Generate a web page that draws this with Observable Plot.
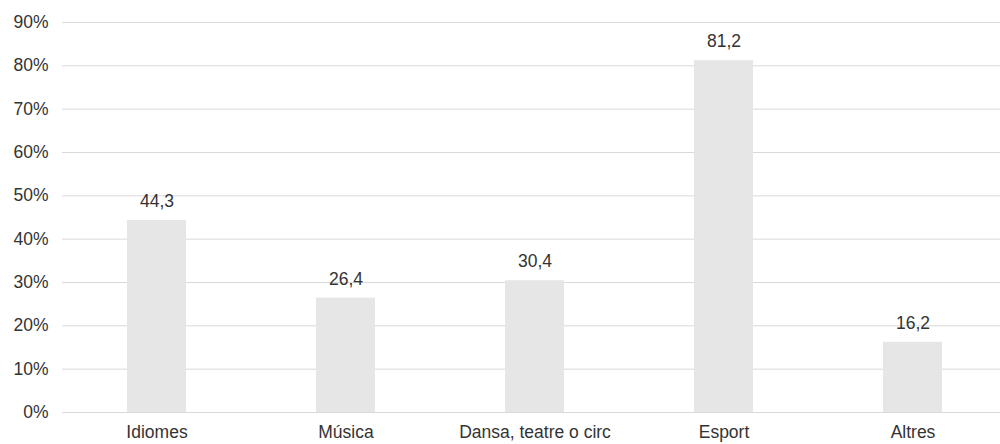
<!DOCTYPE html>
<html>
<head>
<meta charset="utf-8">
<script src="https://cdn.jsdelivr.net/npm/d3@7"></script>
<script src="https://cdn.jsdelivr.net/npm/@observablehq/plot@0.6"></script>
<style>
  html, body { margin: 0; padding: 0; background: #fff; }
  #chart svg { display: block; }
</style>
</head>
<body>
<div id="chart"></div>
<script>
const categories = ["Idiomes", "Música", "Dansa, teatre o circ", "Esport", "Altres"];
const values = [44.3, 26.4, 30.4, 81.2, 16.2];
const yTicks = [0, 10, 20, 30, 40, 50, 60, 70, 80, 90];

const data = categories.map((c, i) => ({ category: c, value: values[i] }));
const fmt = v => v.toFixed(1).replace(".", ",");
const FS = 17.5;

const chart = Plot.plot({
  width: 1000,
  height: 444,
  marginTop: 22,
  marginBottom: 32,
  marginLeft: 62,
  marginRight: 0,
  style: { fontFamily: "'Liberation Sans', Arial, sans-serif", fontSize: FS + "px", color: "#333", background: "#fff" },
  x: { domain: categories, range: [62, 1007], paddingInner: 0.69, paddingOuter: 0.345, label: null },
  y: { domain: [0, 90], label: null },
  marks: [
    Plot.ruleY(yTicks, { stroke: "#d9d9d9", strokeWidth: 1 }),
    Plot.barY(data, { x: "category", y: "value", fill: "#e6e6e6" }),
    Plot.ruleY([0], { stroke: "#d9d9d9", strokeWidth: 1 }),
    Plot.axisY({ ticks: yTicks, tickFormat: d => d + "%", tickSize: 0, tickPadding: 14, fontSize: FS, fill: "#333", label: null }),
    Plot.axisX({ tickSize: 0, tickPadding: 13, fontSize: FS, fill: "#333", label: null }),
    Plot.text(data, { x: "category", y: "value", text: d => fmt(d.value), dy: -19, fill: "#333", fontSize: FS })
  ]
});
document.getElementById("chart").appendChild(chart);
</script>
</body>
</html>
